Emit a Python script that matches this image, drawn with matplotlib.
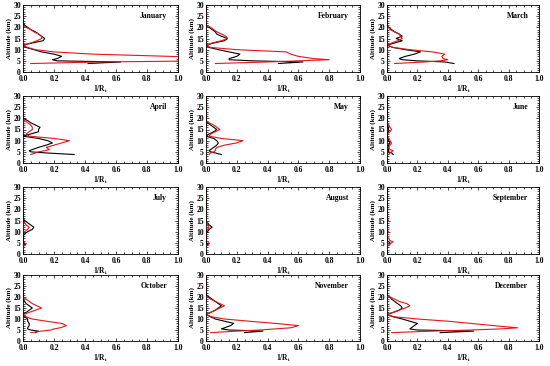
import matplotlib
matplotlib.use("Agg")
import matplotlib.pyplot as plt
from matplotlib.ticker import MultipleLocator

months = ["January", "February", "March", "April", "May", "June",
          "July", "August", "September", "October", "November", "December"]

# common altitude grid (km)
alt = [3.8, 4.5, 5, 5.5, 6, 7, 8, 9, 10, 11, 12, 13, 14, 15, 16, 17, 18, 19, 20, 21, 22, 25, 30]

# 1/R values, black and red profiles per month
jan_black = [0.42, 0.63, 0.22, 0.19, 0.22, 0.25, 0.2, 0.12, 0.07, 0.02, 0.0, 0.06, 0.13, 0.14, 0.12, 0.1, 0.08, 0.05, 0.03, 0.01, 0.0, 0.0, 0.0]
jan_red = [0.05, 0.5, 1.2, 1.4, 1.3, 0.95, 0.45, 0.2, 0.08, 0.03, 0.0, 0.05, 0.09, 0.12, 0.12, 0.1, 0.07, 0.05, 0.02, 0.0, 0.0, 0.0, 0.0]
feb_black = [0.47, 0.63, 0.3, 0.15, 0.15, 0.2, 0.22, 0.15, 0.08, 0.02, 0.0, 0.05, 0.12, 0.14, 0.1, 0.07, 0.06, 0.04, 0.02, 0.0, 0.0, 0.0, 0.0]
feb_red = [0.06, 0.4, 0.6, 0.8, 0.7, 0.6, 0.55, 0.52, 0.2, 0.03, 0.0, 0.04, 0.1, 0.14, 0.13, 0.1, 0.07, 0.05, 0.03, 0.0, 0.0, 0.0, 0.0]
mar_black = [0.44, 0.38, 0.2, 0.1, 0.08, 0.12, 0.18, 0.22, 0.12, 0.04, 0.0, 0.05, 0.1, 0.06, 0.1, 0.08, 0.05, 0.03, 0.01, 0.0, 0.0, 0.0, 0.0]
mar_red = [0.05, 0.25, 0.35, 0.4, 0.37, 0.36, 0.38, 0.3, 0.15, 0.04, 0.0, 0.03, 0.07, 0.1, 0.09, 0.08, 0.05, 0.02, 0.01, 0.0, 0.0, 0.0, 0.0]
apr_black = [0.33, 0.15, 0.05, 0.04, 0.06, 0.1, 0.15, 0.19, 0.16, 0.1, 0.0, 0.05, 0.1, 0.1, 0.11, 0.08, 0.05, 0.03, 0.0, 0.0, 0.0, 0.0, 0.0]
apr_red = [0.05, 0.08, 0.1, 0.14, 0.17, 0.15, 0.2, 0.25, 0.3, 0.2, 0.04, 0.02, 0.04, 0.06, 0.06, 0.05, 0.03, 0.01, 0.0, 0.0, 0.0, 0.0, 0.0]
may_black = [0.1, 0.06, 0.03, 0.02, 0.03, 0.05, 0.07, 0.08, 0.07, 0.05, 0.0, 0.02, 0.05, 0.07, 0.05, 0.03, 0.01, 0.0, 0.0, 0.0, 0.0, 0.0, 0.0]
may_red = [0.02, 0.03, 0.05, 0.06, 0.06, 0.07, 0.12, 0.2, 0.24, 0.1, 0.02, 0.03, 0.06, 0.09, 0.07, 0.05, 0.02, 0.0, 0.0, 0.0, 0.0, 0.0, 0.0]
jun_black = [0.04, 0.03, 0.01, 0.01, 0.01, 0.01, 0.01, 0.02, 0.01, 0.01, 0.0, 0.0, 0.01, 0.01, 0.01, 0.0, 0.0, 0.0, 0.0, 0.0, 0.0, 0.0, 0.0]
jun_red = [0.01, 0.02, 0.03, 0.04, 0.02, 0.01, 0.02, 0.03, 0.02, 0.01, 0.0, 0.0, 0.02, 0.03, 0.02, 0.01, 0.0, 0.0, 0.0, 0.0, 0.0, 0.0, 0.0]
jul_black = [0.01, 0.01, 0.0, 0.0, 0.0, 0.0, 0.0, 0.01, 0.03, 0.06, 0.07, 0.05, 0.03, 0.01, 0.0, 0.0, 0.0, 0.0, 0.0, 0.0, 0.0, 0.0, 0.0]
jul_red = [0.01, 0.02, 0.01, 0.0, 0.0, 0.0, 0.0, 0.0, 0.01, 0.03, 0.04, 0.02, 0.01, 0.0, 0.0, 0.0, 0.0, 0.0, 0.0, 0.0, 0.0, 0.0, 0.0]
aug_black = [0.01, 0.01, 0.0, 0.0, 0.0, 0.0, 0.0, 0.0, 0.01, 0.02, 0.04, 0.02, 0.01, 0.0, 0.0, 0.0, 0.0, 0.0, 0.0, 0.0, 0.0, 0.0, 0.0]
aug_red = [0.01, 0.02, 0.02, 0.01, 0.0, 0.0, 0.0, 0.0, 0.0, 0.01, 0.02, 0.01, 0.01, 0.0, 0.0, 0.0, 0.0, 0.0, 0.0, 0.0, 0.0, 0.0, 0.0]
sep_black = [0.01, 0.02, 0.02, 0.01, 0.0, 0.0, 0.0, 0.0, 0.0, 0.0, 0.0, 0.0, 0.0, 0.0, 0.0, 0.0, 0.0, 0.0, 0.0, 0.0, 0.0, 0.0, 0.0]
sep_red = [0.01, 0.02, 0.03, 0.04, 0.02, 0.01, 0.0, 0.0, 0.01, 0.0, 0.0, 0.0, 0.0, 0.01, 0.0, 0.0, 0.0, 0.0, 0.0, 0.0, 0.0, 0.0, 0.0]
oct_black = [0.08, 0.1, 0.05, 0.03, 0.03, 0.04, 0.04, 0.03, 0.03, 0.01, 0.0, 0.02, 0.04, 0.06, 0.04, 0.02, 0.01, 0.0, 0.0, 0.0, 0.0, 0.0, 0.0]
oct_red = [0.05, 0.12, 0.18, 0.2, 0.24, 0.28, 0.25, 0.15, 0.06, 0.02, 0.0, 0.04, 0.08, 0.12, 0.09, 0.06, 0.04, 0.02, 0.0, 0.0, 0.0, 0.0, 0.0]
nov_black = [0.25, 0.37, 0.15, 0.1, 0.12, 0.16, 0.18, 0.12, 0.06, 0.03, 0.0, 0.03, 0.06, 0.08, 0.1, 0.08, 0.06, 0.04, 0.02, 0.0, 0.0, 0.0, 0.0]
nov_red = [0.03, 0.2, 0.35, 0.45, 0.55, 0.6, 0.45, 0.28, 0.12, 0.04, 0.0, 0.03, 0.06, 0.09, 0.12, 0.09, 0.06, 0.03, 0.01, 0.0, 0.0, 0.0, 0.0]
dec_black = [0.35, 0.57, 0.2, 0.15, 0.16, 0.18, 0.2, 0.15, 0.1, 0.04, 0.0, 0.04, 0.08, 0.1, 0.09, 0.07, 0.05, 0.03, 0.02, 0.0, 0.0, 0.0, 0.0]
dec_red = [0.03, 0.3, 0.55, 0.75, 0.86, 0.7, 0.55, 0.4, 0.2, 0.05, 0.0, 0.04, 0.08, 0.12, 0.15, 0.13, 0.08, 0.05, 0.02, 0.0, 0.0, 0.0, 0.0]

black_series = [jan_black, feb_black, mar_black, apr_black, may_black, jun_black,
                jul_black, aug_black, sep_black, oct_black, nov_black, dec_black]
red_series = [jan_red, feb_red, mar_red, apr_red, may_red, jun_red,
              jul_red, aug_red, sep_red, oct_red, nov_red, dec_red]

xticks = [0.0, 0.2, 0.4, 0.6, 0.8, 1.0]
yticks = [0, 5, 10, 15, 20, 25, 30]

plt.rcParams['font.family'] = ['Liberation Serif', 'DejaVu Serif']
plt.rcParams['font.weight'] = 'bold'

W, H = 550, 366
fig = plt.figure(figsize=(W / 100, H / 100), dpi=100)

col_lr = [(23, 178), (206, 360), (387, 539)]
row_tb = [(5, 72), (96, 163), (187, 254), (275, 341)]

for i, m in enumerate(months):
    r, c = divmod(i, 3)
    l, rr = col_lr[c]
    t, b = row_tb[r]
    ax = fig.add_axes([l / W, 1 - b / H, (rr - l) / W, (b - t) / H])
    ax.plot(black_series[i], alt, color='black', lw=0.8)
    ax.plot(red_series[i], alt, color='#e8141b', lw=0.8)
    ax.set_xlim(0, 1)
    ax.set_ylim(0, 30)
    ax.set_xticks(xticks)
    ax.set_xticklabels([f"{v:.1f}" for v in xticks])
    ax.set_yticks(yticks)
    ax.xaxis.set_minor_locator(MultipleLocator(0.05))
    ax.yaxis.set_minor_locator(MultipleLocator(1))
    ax.tick_params(which='both', direction='in', top=True, right=True,
                   labelsize=5.5, width=0.5)
    ax.tick_params(axis='x', pad=2.5)
    ax.tick_params(axis='y', pad=1.5)
    ax.tick_params(which='major', length=2.5)
    ax.tick_params(which='minor', length=1.3)
    for s in ax.spines.values():
        s.set_linewidth(0.6)
    ax.set_xlabel("1/R$_\\mathregular{i}$", fontsize=5.5, fontweight='bold', labelpad=0)
    ax.set_ylabel("Altitude (km)", fontsize=5, fontweight='bold', labelpad=1)
    ax.text(0.93, 0.83, m, transform=ax.transAxes, ha='right', va='center',
            fontsize=5.5, fontweight='bold')

fig.savefig("out.png", dpi=100)
